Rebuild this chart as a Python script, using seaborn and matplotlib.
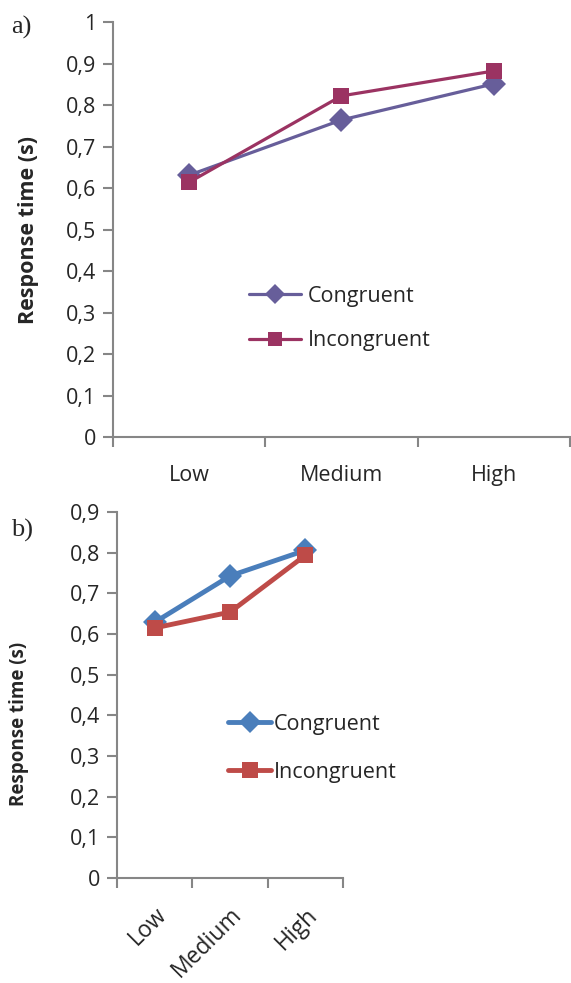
import numpy as np
import pandas as pd
import matplotlib
matplotlib.use("Agg")
import matplotlib.pyplot as plt
from matplotlib.ticker import FuncFormatter, FixedLocator, NullFormatter
import seaborn as sns

# data
levels = ["Low", "Medium", "High"]
conditions = ["Congruent", "Incongruent"]
rt_a_congruent = [0.631, 0.764, 0.851]
rt_a_incongruent = [0.614, 0.822, 0.882]
rt_b_congruent = [0.629, 0.743, 0.806]
rt_b_incongruent = [0.615, 0.654, 0.794]

colors_a = {"Congruent": "#675E9A", "Incongruent": "#9B3362"}
colors_b = {"Congruent": "#4A7EBB", "Incongruent": "#BE4B48"}
markers = {"Congruent": "D", "Incongruent": "s"}

sns.set_theme(style="white")
plt.rcParams["font.family"] = ["Open Sans", "DejaVu Sans"]

AXIS_GREY = "#868686"


def make_df(cong, incong):
    return pd.DataFrame({
        "level": levels * 2,
        "rt": cong + incong,
        "condition": [conditions[0]] * 3 + [conditions[1]] * 3,
    })


def comma_fmt(v, pos):
    if abs(v - round(v)) < 1e-9:
        return str(int(round(v)))
    return f"{v:.1f}".replace(".", ",")


def style_axes(ax, ymax, ylabel_size):
    ax.set_ylim(0, ymax)
    ax.set_xlim(-0.5, 2.5)
    ax.set_yticks(np.arange(0, ymax + 0.001, 0.1))
    ax.yaxis.set_major_formatter(FuncFormatter(comma_fmt))
    ax.xaxis.set_major_locator(FixedLocator([0, 1, 2]))
    ax.set_xticklabels(levels)
    ax.xaxis.set_minor_locator(FixedLocator([-0.5, 0.5, 1.5, 2.5]))
    ax.xaxis.set_minor_formatter(NullFormatter())
    ax.tick_params(axis="x", which="major", length=0, labelsize=15.5, pad=20)
    ax.tick_params(axis="x", which="minor", length=7, width=1.5, color=AXIS_GREY, direction="out", bottom=True)
    ax.tick_params(axis="y", length=7, width=1.5, color=AXIS_GREY, direction="out", left=True, labelsize=15.5, pad=5)
    for side in ["top", "right"]:
        ax.spines[side].set_visible(False)
    for side in ["left", "bottom"]:
        ax.spines[side].set_color(AXIS_GREY)
        ax.spines[side].set_linewidth(1.5)
    ax.set_xlabel("")
    ax.set_ylabel("Response time (s)", fontsize=ylabel_size, fontweight="bold")


fig = plt.figure(figsize=(5.71, 9.83), dpi=100)

# panel a
ax_a = fig.add_axes([0.198, 0.5554, 0.800, 0.4222])
sns.lineplot(data=make_df(rt_a_congruent, rt_a_incongruent), x="level", y="rt",
             hue="condition", style="condition", markers=markers, dashes=False,
             palette=colors_a, linewidth=2.3, markersize=12, markeredgewidth=0, ax=ax_a)
style_axes(ax_a, 1.0, 15.5)
ax_a.yaxis.set_label_coords(-0.163, 0.5)
leg = ax_a.legend(frameon=False, loc="center left", bbox_to_anchor=(0.275, 0.286),
                  fontsize=15.5, handlelength=2.4, handletextpad=0.3, labelspacing=1.1, borderpad=0)
for h in leg.legend_handles:
    h.set_markersize(10)
fig.text(0.02, 0.966, "a)", fontsize=19, family=["Liberation Serif", "DejaVu Serif"])

# panel b
ax_b = fig.add_axes([0.205, 0.1068, 0.396, 0.3723])
sns.lineplot(data=make_df(rt_b_congruent, rt_b_incongruent), x="level", y="rt",
             hue="condition", style="condition", markers=markers, dashes=False,
             palette=colors_b, linewidth=3.5, markersize=12, markeredgewidth=0, ax=ax_b)
style_axes(ax_b, 0.9, 13.5)
ax_b.yaxis.set_label_coords(-0.39, 0.42)
for lbl in ax_b.get_xticklabels():
    lbl.set_rotation(45)
    lbl.set_ha("right")
    lbl.set_rotation_mode("anchor")
ax_b.tick_params(axis="x", which="major", pad=18, labelsize=16.5)
leg = ax_b.legend(frameon=False, loc="center left", bbox_to_anchor=(0.445, 0.355),
                  fontsize=15.5, handlelength=2.0, handletextpad=0.1, labelspacing=1.25, borderpad=0)
for h in leg.legend_handles:
    h.set_markersize(11)
fig.text(0.02, 0.454, "b)", fontsize=19, family=["Liberation Serif", "DejaVu Serif"])

fig.savefig("out.png", dpi=100)
